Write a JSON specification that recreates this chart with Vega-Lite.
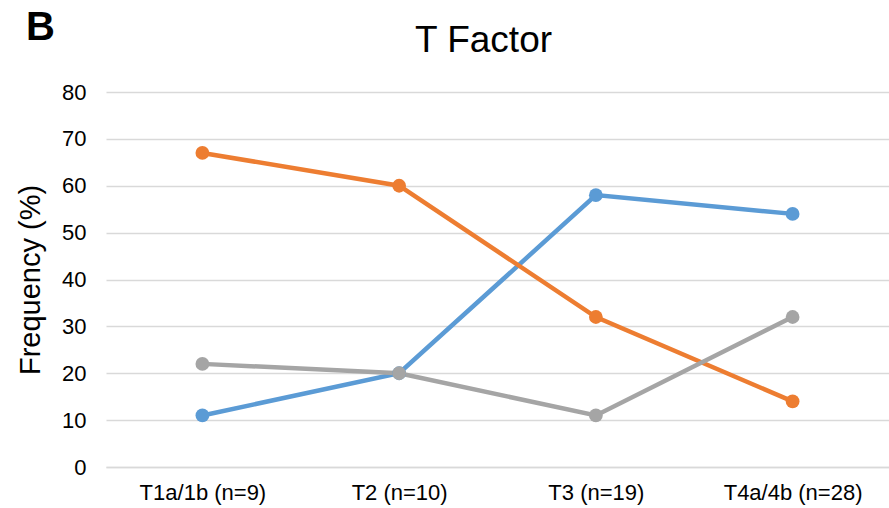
{
  "$schema": "https://vega.github.io/schema/vega-lite/v6.json",
  "width": 783,
  "height": 375,
  "autosize": "none",
  "padding": {"left": 106, "top": 92, "right": 0, "bottom": 41},
  "background": "white",
  "config": {"view": {"stroke": null}, "font": "Liberation Sans"},
  "title": {"text": "T Factor", "fontSize": 37, "font": "Liberation Sans", "fontWeight": "normal", "color": "#000000", "offset": -52, "dx": -14, "anchor": "middle"},
  "data": {"values": [
    {"cat": "T1a/1b (n=9)", "series": "A", "value": 11},
    {"cat": "T2 (n=10)", "series": "A", "value": 20},
    {"cat": "T3 (n=19)", "series": "A", "value": 58},
    {"cat": "T4a/4b (n=28)", "series": "A", "value": 54},
    {"cat": "T1a/1b (n=9)", "series": "B", "value": 67},
    {"cat": "T2 (n=10)", "series": "B", "value": 60},
    {"cat": "T3 (n=19)", "series": "B", "value": 32},
    {"cat": "T4a/4b (n=28)", "series": "B", "value": 14},
    {"cat": "T1a/1b (n=9)", "series": "C", "value": 22},
    {"cat": "T2 (n=10)", "series": "C", "value": 20},
    {"cat": "T3 (n=19)", "series": "C", "value": 11},
    {"cat": "T4a/4b (n=28)", "series": "C", "value": 32}
  ]},
  "encoding": {
    "x": {"field": "cat", "type": "nominal", "sort": null,
      "scale": {"type": "point", "padding": 0.49},
      "axis": {"title": null, "labelAngle": 0, "labelFontSize": 22, "labelColor": "#000000", "labelPadding": 15, "ticks": false, "domainColor": "#d9d9d9", "domainWidth": 1.5, "grid": false}},
    "y": {"field": "value", "type": "quantitative",
      "scale": {"domain": [0, 80]},
      "axis": {"title": "Frequency (%)", "titleFontSize": 29, "titleFontWeight": "normal", "titleColor": "#000000", "titlePadding": 16, "values": [0,10,20,30,40,50,60,70,80], "labelFontSize": 22, "labelColor": "#000000", "labelPadding": 20, "ticks": false, "domain": false, "gridColor": "#d9d9d9", "gridWidth": 1.5}},
    "color": {"field": "series", "type": "nominal", "legend": null,
      "scale": {"domain": ["A", "B", "C"], "range": ["#5B9BD5", "#ED7D31", "#A5A5A5"]}}
  },
  "layer": [
    {"mark": {"type": "line", "strokeWidth": 4.5}},
    {"mark": {"type": "point", "filled": true, "opacity": 1, "size": 190}},
    {"data": {"values": [{"cat": "T1a/1b (n=9)", "label": "B", "value": 93.6}]},
     "mark": {"type": "text", "fontSize": 40, "fontWeight": "bold", "color": "#000000", "dx": -162, "align": "center", "baseline": "middle"},
     "encoding": {"text": {"field": "label"}, "color": {"value": "#000000"}}}
  ]
}
